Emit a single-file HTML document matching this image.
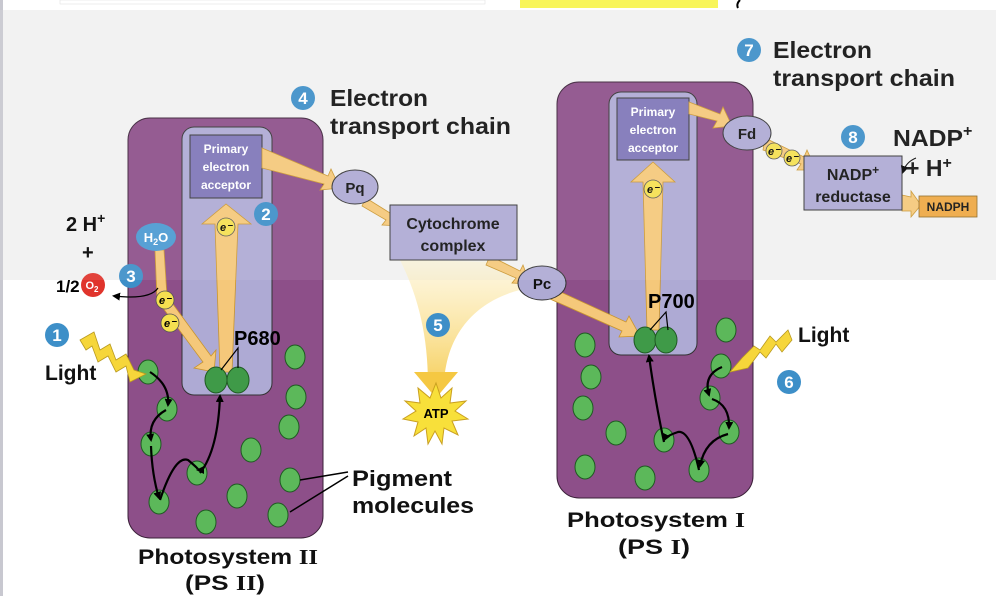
<!DOCTYPE html>
<html><head><meta charset="utf-8"><style>
html,body{margin:0;padding:0;background:#fff}
svg{display:block}
text{font-family:"Liberation Sans",sans-serif;font-weight:bold}
</style></head><body>
<svg width="996" height="596" viewBox="0 0 996 596" xmlns="http://www.w3.org/2000/svg">
<defs>
<linearGradient id="coneg" x1="0" y1="0" x2="0" y2="1"><stop offset="0" stop-color="#fdf1c8" stop-opacity="0.6"/><stop offset="1" stop-color="#f5c842"/></linearGradient>
<marker id="ah" markerWidth="8" markerHeight="8" refX="6" refY="4" orient="auto" markerUnits="userSpaceOnUse"><path d="M0,0 L8,4 L0,8 z" fill="#000"/></marker>
</defs>
<rect width="996" height="596" fill="#fff"/>
<rect x="0" y="10" width="996" height="270" fill="#f1f1f1"/>
<rect x="0" y="0" width="3" height="596" fill="#c8c8d0"/>
<rect x="60" y="0" width="425" height="4" fill="#fff" stroke="#ddd" stroke-width="0.5"/>
<rect x="520" y="0" width="198" height="8" fill="#f8f55a"/>
<path d="M740,0 Q736,4 738,8" stroke="#000" stroke-width="2" fill="none"/>

<!-- cone -->
<path d="M400,260 C420,300 428,340 428,385 L444,385 C446,330 480,300 520,290 L505,262 Z" fill="url(#coneg)" opacity="0.85"/>
<path d="M414,372 L458,372 L436,398 Z" fill="#f5c842"/>

<!-- PS II -->
<rect x="128" y="118" width="195" height="420" rx="22" fill="#8d4f89" stroke="#3a2038" stroke-width="1"/>
<rect x="182" y="127" width="90" height="268" rx="12" fill="#aeaad4" stroke="#333" stroke-width="1"/>
<rect x="190" y="135" width="72" height="63" fill="#7e76b8" stroke="#333" stroke-width="1"/>
<text x="226" y="153" font-size="12" fill="#fff" text-anchor="middle">Primary</text>
<text x="226" y="171" font-size="12" fill="#fff" text-anchor="middle">electron</text>
<text x="226" y="189" font-size="12" fill="#fff" text-anchor="middle">acceptor</text>

<!-- PS I -->
<rect x="557" y="82" width="196" height="416" rx="22" fill="#8d4f89" stroke="#3a2038" stroke-width="1"/>
<rect x="609" y="92" width="88" height="263" rx="12" fill="#aeaad4" stroke="#333" stroke-width="1"/>
<rect x="617" y="98" width="72" height="62" fill="#7e76b8" stroke="#333" stroke-width="1"/>
<text x="653" y="116" font-size="12" fill="#fff" text-anchor="middle">Primary</text>
<text x="653" y="134" font-size="12" fill="#fff" text-anchor="middle">electron</text>
<text x="653" y="152" font-size="12" fill="#fff" text-anchor="middle">acceptor</text>

<!-- yellow arrows -->
<g fill="#f5c87a" stroke="#c9952e" stroke-width="0.8">
<path d="M220,372 L215,224 L202,224 L226,204 L251,224 L238,224 L232,372 Z"/>
<path d="M155,250 L164,250 L167,296 L211,356 L216,350 L214,372 L194,368 L203,362 L157,300 Z"/>
<path d="M262,148 L328,176 L331,169 L340,188 L320,190 L324,184 L262,168 Z"/>
<path d="M366,198 L390,213 L393,207 L400,226 L382,225 L386,220 L362,206 Z"/>
<path d="M490,256 L520,271 L523,265 L530,284 L512,283 L516,278 L486,265 Z"/>
<path d="M552,288 L626,322 L629,316 L640,336 L619,337 L622,331 L550,299 Z"/>
<path d="M647,330 L643,182 L631,182 L653,162 L675,182 L663,182 L659,330 Z"/>
<path d="M689,102 L720,114 L723,107 L732,126 L713,128 L717,121 L689,114 Z"/>
<path d="M765,138 L804,157 L807,150 L816,170 L797,170 L801,164 L763,150 Z"/>
<path d="M902,195 L911,197 L911,191 L921,205 L911,217 L911,211 L902,211 Z"/>
</g>
<!-- e- balls -->
<g font-size="11" font-style="italic" text-anchor="middle">
<circle cx="226" cy="227" r="9" fill="#f5e050" stroke="#555" stroke-width="0.8"/><text x="226" y="231">e⁻</text>
<circle cx="165" cy="300" r="9" fill="#f5e050" stroke="#555" stroke-width="0.8"/><text x="165" y="304">e⁻</text>
<circle cx="170" cy="323" r="9" fill="#f5e050" stroke="#555" stroke-width="0.8"/><text x="170" y="327">e⁻</text>
<circle cx="653" cy="189" r="9" fill="#f5e050" stroke="#555" stroke-width="0.8"/><text x="653" y="193">e⁻</text>
<circle cx="774" cy="151" r="8" fill="#f5e050" stroke="#555" stroke-width="0.8"/><text x="774" y="155">e⁻</text>
<circle cx="792" cy="158" r="8" fill="#f5e050" stroke="#555" stroke-width="0.8"/><text x="792" y="162">e⁻</text>
</g>

<!-- carriers -->
<g stroke="#333" stroke-width="1" fill="#aeaad4">
<ellipse cx="355" cy="187" rx="23" ry="17"/>
<rect x="390" y="205" width="127" height="55"/>
<ellipse cx="542" cy="283" rx="24" ry="17"/>
<ellipse cx="747" cy="133" rx="24" ry="17"/>
<rect x="804" y="156" width="98" height="54"/>
</g>
<rect x="919" y="196" width="58" height="21" fill="#eea843" stroke="#8a6420" stroke-width="0.8"/>
<g fill="#111" text-anchor="middle">
<text x="355" y="193" font-size="15">Pq</text>
<text x="453" y="229" font-size="16">Cytochrome</text>
<text x="453" y="251" font-size="16">complex</text>
<text x="542" y="289" font-size="15">Pc</text>
<text x="747" y="139" font-size="15">Fd</text>
<text x="853" y="180" font-size="16">NADP<tspan dy="-6" font-size="12">+</tspan></text>
<text x="853" y="202" font-size="16">reductase</text>
<text x="948" y="211" font-size="12">NADPH</text>
</g>
<path d="M916,158 Q906,162 903,172" stroke="#000" stroke-width="1" fill="none" marker-end="url(#ah)"/>

<!-- ATP star -->
<polygon points="436,383 441,398 452,388 450,403 466,401 455,411 468,419 452,421 458,435 444,428 442,444 435,431 428,444 426,428 414,436 418,422 403,419 416,411 405,401 420,403 418,388 430,398" fill="#f8e03a" stroke="#caa020" stroke-width="1"/>
<text x="436" y="418" font-size="13" text-anchor="middle">ATP</text>

<!-- green pigments -->
<g fill="#5cb85a" stroke="#1f5a22" stroke-width="1">
<ellipse cx="295" cy="357" rx="10" ry="12"/><ellipse cx="296" cy="397" rx="10" ry="12"/>
<ellipse cx="289" cy="427" rx="10" ry="12"/><ellipse cx="251" cy="450" rx="10" ry="12"/>
<ellipse cx="290" cy="480" rx="10" ry="12"/><ellipse cx="237" cy="496" rx="10" ry="12"/>
<ellipse cx="278" cy="515" rx="10" ry="12"/><ellipse cx="206" cy="522" rx="10" ry="12"/>
<ellipse cx="148" cy="372" rx="10" ry="12"/><ellipse cx="167" cy="409" rx="10" ry="12"/>
<ellipse cx="151" cy="444" rx="10" ry="12"/><ellipse cx="197" cy="473" rx="10" ry="12"/>
<ellipse cx="159" cy="502" rx="10" ry="12"/>
<ellipse cx="726" cy="330" rx="10" ry="12"/><ellipse cx="585" cy="345" rx="10" ry="12"/>
<ellipse cx="591" cy="377" rx="10" ry="12"/><ellipse cx="583" cy="408" rx="10" ry="12"/>
<ellipse cx="616" cy="433" rx="10" ry="12"/><ellipse cx="585" cy="467" rx="10" ry="12"/>
<ellipse cx="645" cy="478" rx="10" ry="12"/><ellipse cx="721" cy="366" rx="10" ry="12"/>
<ellipse cx="710" cy="398" rx="10" ry="12"/><ellipse cx="729" cy="432" rx="10" ry="12"/>
<ellipse cx="664" cy="440" rx="10" ry="12"/><ellipse cx="699" cy="470" rx="10" ry="12"/>
</g>
<g fill="#3f9a48" stroke="#1f5a22" stroke-width="1">
<ellipse cx="216" cy="380" rx="11" ry="13"/><ellipse cx="238" cy="380" rx="11" ry="13"/>
<ellipse cx="645" cy="340" rx="11" ry="13"/><ellipse cx="666" cy="340" rx="11" ry="13"/>
</g>

<!-- black excitation arrows -->
<g stroke="#000" stroke-width="2.2" fill="none" marker-end="url(#ah)">
<path d="M150,372 Q170,385 168,405"/>
<path d="M166,410 Q148,420 151,440"/>
<path d="M151,446 Q152,475 159,498"/>
<path d="M160,500 Q175,455 188,460 Q200,470 198,470"/>
<path d="M200,473 Q218,450 220,396"/>
<path d="M722,367 Q703,375 709,395"/>
<path d="M712,399 Q730,405 729,428"/>
<path d="M728,434 Q705,440 700,466"/>
<path d="M699,470 Q690,430 678,432 Q666,436 664,440"/>
<path d="M664,442 Q655,400 649,356"/>
</g>
<!-- P labels -->
<path d="M221,370 L238,348 L238,368" stroke="#000" stroke-width="1.2" fill="none"/>
<path d="M650,330 L666,312 L668,330" stroke="#000" stroke-width="1.2" fill="none"/>
<text x="234" y="345" font-size="20">P680</text>
<text x="648" y="308" font-size="20">P700</text>
<!-- pigment pointers -->
<path d="M300,480 L348,472 M290,512 L348,476" stroke="#000" stroke-width="1.5" fill="none"/>

<!-- light bolts -->
<path d="M80,340 L94,332 L100,350 L110,344 L116,360 L126,354 L134,370 L146,374 L130,382 L126,366 L116,372 L108,356 L98,362 L92,346 L86,350 Z" fill="#f6d63a" stroke="#b99a20" stroke-width="0.8"/>
<path d="M792,340 L782,352 L776,344 L766,358 L760,352 L748,368 L730,372 L742,358 L754,346 L760,350 L770,336 L776,342 L788,330 Z" fill="#f6d63a" stroke="#b99a20" stroke-width="0.8"/>

<!-- H2O / O2 -->
<ellipse cx="156" cy="237" rx="20" ry="14" fill="#4a9ad2"/>
<text x="156" y="242" font-size="13" fill="#fff" text-anchor="middle">H<tspan font-size="9" dy="3">2</tspan><tspan dy="-3">O</tspan></text>
<circle cx="93" cy="285" r="12" fill="#e0342c"/>
<text x="92" y="289" font-size="11" fill="#fff" text-anchor="middle">O<tspan font-size="8" dy="3">2</tspan></text>
<path d="M158,288 Q150,300 114,296" stroke="#000" stroke-width="1.2" fill="none" marker-end="url(#ah)"/>
<text x="66" y="231" font-size="20">2 H<tspan dy="-8" font-size="14">+</tspan></text>
<text x="82" y="259" font-size="20">+</text>
<text x="56" y="292" font-size="17">1/2</text>

<!-- number circles -->
<g fill="#3d8fc8">
<circle cx="57" cy="335" r="12"/><circle cx="266" cy="214" r="12"/>
<circle cx="131" cy="276" r="12"/><circle cx="303" cy="98" r="12"/>
<circle cx="438" cy="325" r="12"/><circle cx="789" cy="382" r="12"/>
<circle cx="749" cy="50" r="12"/><circle cx="853" cy="137" r="12"/>
</g>
<g fill="#fff" font-size="17" text-anchor="middle">
<text x="57" y="341">1</text><text x="266" y="220">2</text><text x="131" y="282">3</text>
<text x="303" y="104">4</text><text x="438" y="331">5</text><text x="789" y="388">6</text>
<text x="749" y="56">7</text><text x="853" y="143">8</text>
</g>

<!-- labels -->
<g fill="#111" font-size="23">
<text x="330" y="106" textLength="98" lengthAdjust="spacingAndGlyphs">Electron</text>
<text x="330" y="134" textLength="181" lengthAdjust="spacingAndGlyphs">transport chain</text>
<text x="773" y="58" textLength="99" lengthAdjust="spacingAndGlyphs">Electron</text>
<text x="773" y="86" textLength="182" lengthAdjust="spacingAndGlyphs">transport chain</text>
<text x="893" y="146" textLength="70" lengthAdjust="spacingAndGlyphs">NADP</text><text x="963" y="136" font-size="16">+</text>
<text x="906" y="176">+ H<tspan dy="-8" font-size="16">+</tspan></text>
<text x="45" y="380" font-size="21">Light</text>
<text x="798" y="342" font-size="21">Light</text>
<text x="352" y="486" font-size="22" textLength="100" lengthAdjust="spacingAndGlyphs">Pigment</text>
<text x="352" y="513" font-size="22" textLength="122" lengthAdjust="spacingAndGlyphs">molecules</text>
<text x="138" y="564" font-size="21" textLength="180" lengthAdjust="spacingAndGlyphs">Photosystem <tspan font-family="Liberation Serif">II</tspan></text>
<text x="185" y="590" font-size="21" textLength="80" lengthAdjust="spacingAndGlyphs">(PS <tspan font-family="Liberation Serif">II</tspan>)</text>
<text x="567" y="527" font-size="21" textLength="178" lengthAdjust="spacingAndGlyphs">Photosystem <tspan font-family="Liberation Serif">I</tspan></text>
<text x="618" y="554" font-size="21" textLength="72" lengthAdjust="spacingAndGlyphs">(PS <tspan font-family="Liberation Serif">I</tspan>)</text>
</g>
<!-- lighten upper band -->
<rect x="0" y="10" width="996" height="270" fill="#fff" opacity="0.08"/>
</svg>
</body></html>
